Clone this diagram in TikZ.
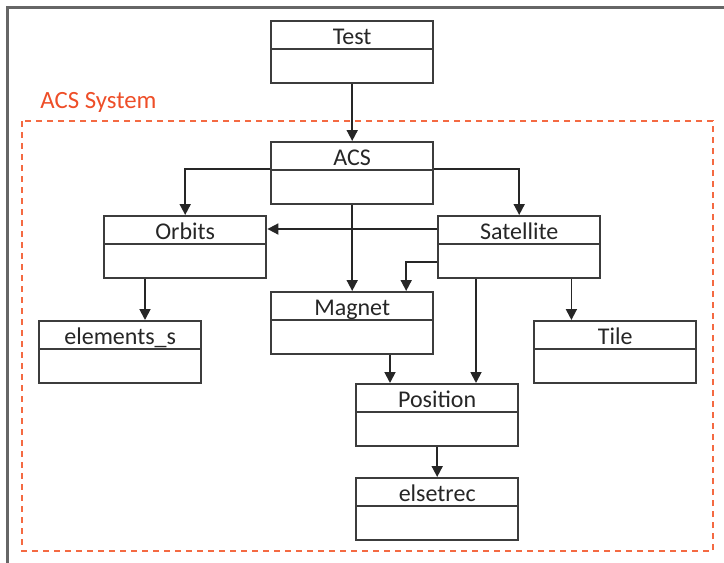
\documentclass[tikz,border=0pt]{standalone}
\usepackage{fontspec}
\setmainfont{Carlito}
\usepackage{xcolor}
\usepackage{tikz}
\usetikzlibrary{arrows.meta, positioning, calc}
\definecolor{acsred}{RGB}{238,78,40}
\definecolor{dashorange}{RGB}{244,106,66}
\definecolor{boxline}{RGB}{60,60,60}
\tikzset{
  classbox/.style={rectangle, draw=boxline, line width=1.2pt, fill=white, anchor=north west, minimum width=81pt, minimum height=31pt, inner xsep=0pt, inner ysep=0pt, text height=11.5pt, text depth=19.5pt, align=center, font=\fontsize{12}{14}\selectfont, text=black!85,
    path picture={\draw[boxline, line width=1.2pt] ([yshift=-14pt]path picture bounding box.north west) -- ([yshift=-14pt]path picture bounding box.north east);}},
  arrow/.style={-{Triangle[length=5.5pt, width=5.5pt]}, line width=0.9pt, draw=black!85},
  frame/.style={draw=black!60, line width=1.5pt},
  sysbox/.style={draw=dashorange, line width=1.3pt, dash pattern=on 3pt off 2.5pt},
}
\begin{document}
\begin{tikzpicture}[x=0.5pt, y=-0.5pt]
\useasboundingbox (0,0) rectangle (724,563);
\clip (0,0) rectangle (724,563);
\draw[frame] (7,600) |- (760,7);
% subsystem frame
\draw[sysbox] (22,121) rectangle (713,551);
\node[anchor=base west, inner sep=0pt, text=acsred, font=\fontsize{12.4}{14}\selectfont] (syslabel) at (40,108) {ACS System};
% classes
\node[classbox] (test) at (270,20) {Test};
\node[classbox] (acs) at (270,141) {ACS};
\node[classbox] (orbits) at (103,215) {Orbits};
\node[classbox] (satellite) at (437,215) {Satellite};
\node[classbox] (magnet) at (270,291) {Magnet};
\node[classbox] (elements) at (38,320) {elements\_s};
\node[classbox] (tile) at (533,320) {Tile};
\node[classbox] (position) at (355,383) {Position};
\node[classbox] (elsetrec) at (355,477) {elsetrec};
% associations
\draw[arrow] (test)--(acs);
\draw[arrow] ([yshift=-14pt]acs.north west) -| (orbits.north);
\draw[arrow] ([yshift=-14pt]acs.north east) -| (satellite.north);
\draw[arrow] ([yshift=-7pt]satellite.north west)--([yshift=-7pt]orbits.north east);
\draw[arrow] (acs)--(magnet);
\draw[arrow] ([yshift=-23.5pt]satellite.north west) -| ([xshift=27pt]magnet.north);
\draw[arrow] ([xshift=21pt]orbits.south west)--([xshift=21pt]orbits.south west |- elements.north);
\draw[arrow] ([xshift=19.5pt]satellite.south west)--([xshift=19.5pt]satellite.south west |- position.north);
\draw[arrow] ([xshift=-15pt]satellite.south east)--([xshift=-15pt]satellite.south east |- tile.north);
\draw[arrow] ([xshift=60pt]magnet.south west)--([xshift=60pt]magnet.south west |- position.north);
\draw[arrow] (position)--(elsetrec);
\end{tikzpicture}
\end{document}
